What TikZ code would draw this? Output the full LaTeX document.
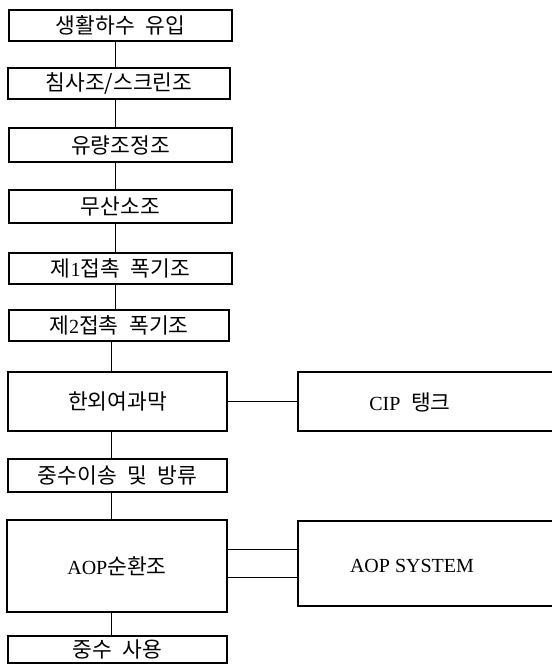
\documentclass[tikz,border=0pt]{standalone}
\usepackage{fontspec}
\setmainfont{Liberation Serif}
\newfontfamily\kr[WordSpace=2.2]{Noto Sans CJK KR}
\newcommand{\lt}[1]{{\rmfamily\fontsize{20}{22}\selectfont #1}}
\begin{document}
\begin{tikzpicture}[x=1pt,y=-1pt,
  box/.style={draw, line width=2.2pt, inner sep=0pt, font=\kr\fontsize{21.5}{24}\selectfont},
  lbl/.style={inner sep=0pt, font=\kr\fontsize{21.5}{24}\selectfont},
  conn/.style={line width=0.8pt}]
\useasboundingbox (0,0) rectangle (552,665);
\clip (0,0) rectangle (552,665);
\coordinate (sp) at (115,0);
\coordinate (sq) at (111,0);
\coordinate (l1) at (0,549);
\coordinate (l2) at (0,577);
\node[box, minimum width=223pt, minimum height=31pt] (b1) at (120.5,25.5) {생활하수 유입};
\node[box, minimum width=222pt, minimum height=31pt] (b2) at (119,83.5) {침사조/스크린조};
\node[box, minimum width=223pt, minimum height=34pt] (b3) at (120.5,145) {유량조정조};
\node[box, minimum width=223pt, minimum height=33pt] (b4) at (120.5,206.5) {무산소조};
\node[box, minimum width=223pt, minimum height=31pt] (b5) at (120.5,268.5) {제\lt{1}접촉 폭기조};
\node[box, minimum width=220pt, minimum height=31pt] (b6) at (119,325.5) {제\lt{2}접촉 폭기조};
\node[box, minimum width=219pt, minimum height=59pt] (b7) at (117.5,401.5) {한외여과막};
\node[box, minimum width=219pt, minimum height=33pt] (b8) at (117.5,475.5) {중수이송 및 방류};
\node[box, minimum width=220pt, minimum height=92pt] (b9) at (117,566) {\lt{AOP}순환조};
\node[box, minimum width=219pt, minimum height=27pt] (b10) at (117.5,649.5) {중수 사용};
\node[box, minimum width=264pt, minimum height=59pt] (cip) at (430,401.5) {};
\node[lbl] (ciptxt) at (410,402) {\lt{CIP} 탱크};
\node[box, minimum width=264pt, minimum height=85pt] (aop) at (430,563.5) {};
\node[lbl] (aoptxt) at (412,566) {\lt{AOP SYSTEM}};
\draw[conn] (b1.south -| sp) -- (b2.north -| sp);
\draw[conn] (b2.south -| sp) -- (b3.north -| sp);
\draw[conn] (b3.south -| sp) -- (b4.north -| sp);
\draw[conn] (b4.south -| sp) -- (b5.north -| sp);
\draw[conn] (b5.south -| sp) -- (b6.north -| sp);
\draw[conn] (b6.south -| sq) -- (b7.north -| sq);
\draw[conn] (b7.south -| sq) -- (b8.north -| sq);
\draw[conn] (b8.south -| sq) -- (b9.north -| sq);
\draw[conn] (b9.south -| sq) -- (b10.north -| sq);
\draw[conn] (b7.east) -- (cip.west);
\draw[conn] (b9.east |- l1) -- (aop.west |- l1);
\draw[conn] (b9.east |- l2) -- (aop.west |- l2);
\end{tikzpicture}
\end{document}
